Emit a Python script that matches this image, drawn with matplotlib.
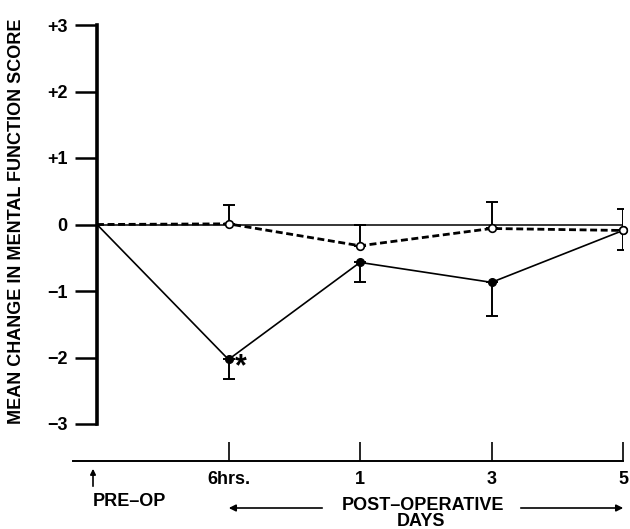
import matplotlib
matplotlib.use('Agg')
import matplotlib.pyplot as plt
import numpy as np

plt.rcParams['font.family'] = ['Liberation Sans', 'DejaVu Sans']
plt.rcParams['font.weight'] = 'bold'

# data
time_labels = ['PRE-OP', '6hrs.', '1', '3', '5']
ytick_vals = [3, 2, 1, 0, -1, -2, -3]
ytick_labels = ['+3', '+2', '+1', '0', '\u22121', '\u22122', '\u22123']

solid_mean = [0.0, -2.03, -0.57, -0.87, -0.09]   # filled circles
solid_err = [0.0, 0.30, 0.29, 0.50, 0.30]        # drawn downwards
dash_mean = [0.0, 0.01, -0.32, -0.06, -0.09]     # open circles
dash_err = [0.0, 0.29, 0.32, 0.40, 0.33]         # drawn upwards

x = np.arange(len(time_labels))

fig = plt.figure(figsize=(6.3, 5.29), dpi=100)
W, H = 630.0, 529.0
fs = 13

#################################################################################
# 1. main panel
ax = fig.add_axes([97/W, 1-424/H, (623-97)/W, (424-25)/H])
ax.set_xlim(0, 4)
ax.set_ylim(-3, 3)
for s in ['top', 'right', 'bottom']:
    ax.spines[s].set_visible(False)
ax.spines['left'].set_linewidth(2.6)
ax.set_xticks([])
ax.set_yticks(ytick_vals)
ax.set_yticklabels(ytick_labels, fontsize=fs, fontweight='bold')
ax.tick_params(axis='y', length=16, width=1.8, pad=5)
fig.text(17/W, 1-221/H, 'MEAN CHANGE IN MENTAL FUNCTION SCORE', fontsize=fs, fontweight='bold',
         rotation=90, ha='center', va='center')

# zero reference line
ax.plot([0, 4], [0, 0], color='black', lw=1.1, zorder=1)

# error bars
ax.errorbar(x[1:], solid_mean[1:], yerr=[solid_err[1:], np.zeros(4)], fmt='none',
            ecolor='black', elinewidth=1.4, capsize=4.5, capthick=1.4, zorder=2)
ax.errorbar(x[1:], dash_mean[1:], yerr=[np.zeros(4), dash_err[1:]], fmt='none',
            ecolor='black', elinewidth=1.4, capsize=4.5, capthick=1.4, zorder=2)

# lines
ax.plot(x, solid_mean, color='black', lw=1.2, marker='o', markersize=5.5,
        markevery=[1, 2, 3, 4], zorder=3, clip_on=False)
ax.plot(x, dash_mean, color='black', lw=2.0, dashes=(2.5, 1.3), marker='o', markersize=5.5,
        markerfacecolor='white', markeredgewidth=1.2, markevery=[1, 2, 3, 4], zorder=4, clip_on=False)
ax.text(x[1] + 0.05, solid_mean[1] - 0.12, '*', fontsize=22, fontweight='bold', ha='left', va='center')

#################################################################################
# 2. time axis under the panel
ax2 = fig.add_axes([73/W, 1-461/H, (623-73)/W, 0.04])
ax2.set_xlim(-24/131.5, 4)
ax2.patch.set_visible(False)
for s in ['top', 'right', 'left']:
    ax2.spines[s].set_visible(False)
ax2.spines['bottom'].set_linewidth(1.4)
ax2.set_yticks([])
ax2.set_xticks(x[1:])
ax2.set_xticklabels(time_labels[1:], fontsize=fs, fontweight='bold')
ax2.tick_params(axis='x', direction='in', length=14, width=1.2, pad=7)

# pre-op arrow and labels
fig.patches.append(matplotlib.patches.FancyArrowPatch((93/W, 1-489/H), (93/W, 1-466/H),
                   transform=fig.transFigure, arrowstyle='-|>', mutation_scale=8, lw=1.2, color='black'))
fig.text(129/W, 1-502/H, 'PRE\u2013OP', fontsize=fs, fontweight='bold', ha='center', va='center')
fig.text(423/W, 1-505/H, 'POST\u2013OPERATIVE', fontsize=fs, fontweight='bold', ha='center', va='center')
fig.text(421/W, 1-522/H, 'DAYS', fontsize=fs, fontweight='bold', ha='center', va='center')
fig.patches.append(matplotlib.patches.FancyArrowPatch((325/W, 1-508/H), (226/W, 1-508/H),
                   transform=fig.transFigure, arrowstyle='-|>', mutation_scale=10, lw=1.2, color='black'))
fig.patches.append(matplotlib.patches.FancyArrowPatch((518/W, 1-508/H), (626/W, 1-508/H),
                   transform=fig.transFigure, arrowstyle='-|>', mutation_scale=10, lw=1.2, color='black'))

plt.savefig('out.png', dpi=100)
plt.close()
